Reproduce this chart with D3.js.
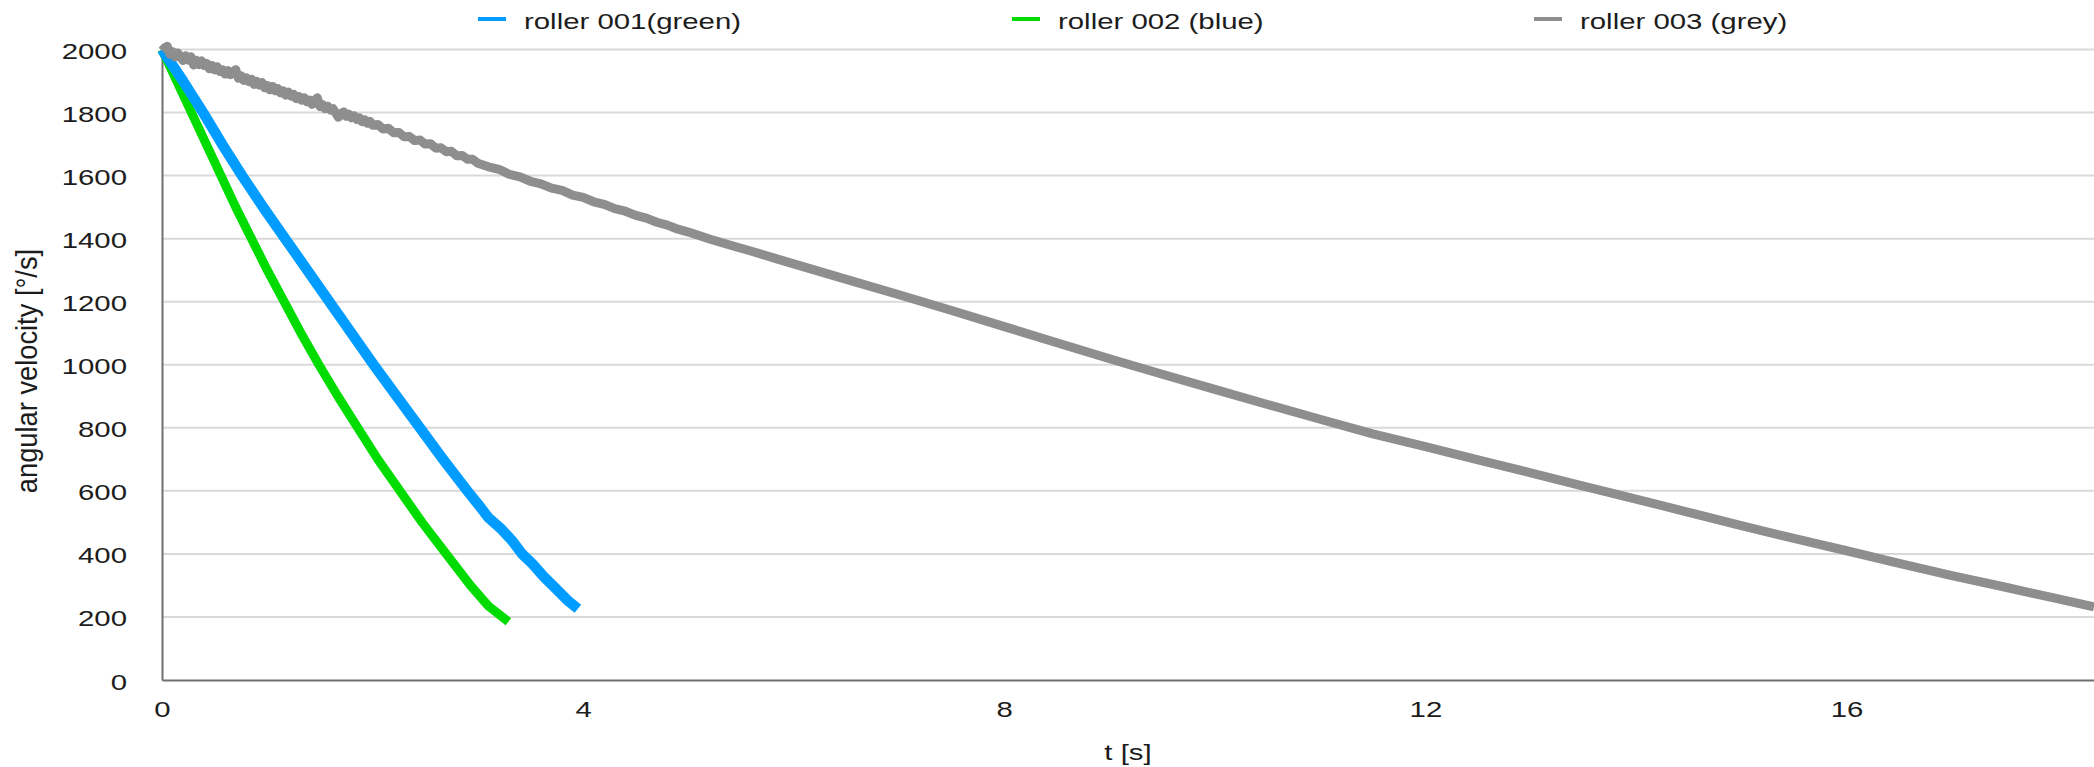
<!DOCTYPE html>
<html>
<head>
<meta charset="utf-8">
<script src="https://cdn.jsdelivr.net/npm/d3@7"></script>
<style>
  body { margin: 0; background: #fff; overflow: hidden; }
  text { font-family: "Liberation Sans", Arial, Helvetica, sans-serif; fill: #1c1c1c; }
</style>
</head>
<body>
<svg id="chart"></svg>
<script>
// series labels and colours, in legend order
const seriesNames = ["roller 001(green)", "roller 002 (blue)", "roller 003 (grey)"];
const seriesColors = ["#009cff", "#00dc00", "#8e8e8e"];

const xTicks = [0, 4, 8, 12, 16];
const yTicks = [0, 200, 400, 600, 800, 1000, 1200, 1400, 1600, 1800, 2000];

// roller 001 [t (s), angular velocity (deg/s)]
const roller001 = [
    [0, 2000], [0.2, 1900], [0.39, 1800], [0.57, 1700], [0.76, 1600], [0.96, 1500],
    [1.17, 1400], [1.38, 1300], [1.59, 1200], [1.80, 1100], [2.01, 1000], [2.23, 900],
    [2.45, 800], [2.67, 700], [2.90, 600], [3.02, 550], [3.10, 515], [3.22, 480],
    [3.33, 440], [3.42, 400], [3.52, 368], [3.62, 330], [3.74, 290], [3.86, 250], [3.95, 226]
];

// roller 002
const roller002 = [
    [0, 2000], [0.14, 1900], [0.28, 1800], [0.42, 1700], [0.56, 1600], [0.70, 1500],
    [0.85, 1400], [1.00, 1300], [1.16, 1200], [1.32, 1100], [1.49, 1000], [1.67, 900],
    [1.86, 800], [2.05, 700], [2.26, 600], [2.47, 500], [2.70, 400], [2.93, 300],
    [3.10, 235], [3.29, 185]
];

// roller 003, noisy during the first seconds
const roller003 = [
    [0.000, 1996], [0.025, 2005], [0.050, 2010], [0.075, 1985], [0.100, 1993], [0.125, 1976],
    [0.150, 1989], [0.175, 1976], [0.200, 1965], [0.225, 1980], [0.250, 1966], [0.275, 1977],
    [0.300, 1951], [0.325, 1966], [0.350, 1952], [0.375, 1964], [0.400, 1949], [0.425, 1956],
    [0.450, 1939], [0.475, 1949], [0.500, 1935], [0.525, 1945], [0.550, 1930], [0.575, 1936],
    [0.600, 1922], [0.625, 1933], [0.650, 1920], [0.675, 1930], [0.700, 1936], [0.725, 1909],
    [0.750, 1917], [0.775, 1902], [0.800, 1910], [0.825, 1898], [0.850, 1906], [0.875, 1889],
    [0.900, 1899], [0.925, 1887], [0.950, 1895], [0.975, 1879], [1.000, 1886], [1.025, 1872],
    [1.050, 1883], [1.075, 1869], [1.100, 1876], [1.125, 1862], [1.150, 1869], [1.175, 1855],
    [1.200, 1865], [1.225, 1852], [1.250, 1858], [1.275, 1844], [1.300, 1851], [1.325, 1839],
    [1.350, 1847], [1.375, 1834], [1.400, 1840], [1.425, 1826], [1.450, 1838], [1.475, 1847],
    [1.500, 1819], [1.525, 1825], [1.550, 1812], [1.575, 1820], [1.600, 1808], [1.625, 1812],
    [1.650, 1798], [1.675, 1785], [1.700, 1796], [1.725, 1802], [1.750, 1788], [1.775, 1795],
    [1.800, 1783], [1.825, 1790], [1.850, 1778], [1.875, 1783], [1.900, 1771], [1.925, 1777],
    [1.950, 1766], [1.975, 1772], [2.000, 1760],
    [2.05, 1762], [2.10, 1748], [2.15, 1750], [2.20, 1736], [2.25, 1737], [2.30, 1723],
    [2.35, 1724], [2.40, 1711], [2.45, 1713], [2.50, 1700], [2.55, 1701], [2.60, 1687],
    [2.65, 1688], [2.70, 1676], [2.75, 1677], [2.80, 1663], [2.85, 1664], [2.90, 1652],
    [2.95, 1652], [3.00, 1639],
    [3.10, 1628], [3.20, 1620], [3.30, 1604], [3.40, 1596], [3.50, 1582], [3.60, 1574],
    [3.70, 1560], [3.80, 1553], [3.90, 1538], [4.00, 1531], [4.10, 1517], [4.20, 1509],
    [4.30, 1495], [4.40, 1487], [4.50, 1474], [4.60, 1465], [4.70, 1452], [4.80, 1443],
    [4.90, 1430], [5.00, 1421], [5.20, 1399], [5.40, 1379], [5.60, 1360], [5.80, 1340],
    [6.00, 1320], [6.50, 1271], [7.00, 1222], [7.50, 1172], [8.00, 1121], [8.50, 1070],
    [9.00, 1019], [9.50, 970], [10.0, 922], [10.5, 874], [11.0, 827], [11.5, 781],
    [12.0, 740], [12.5, 698], [13.0, 657], [13.5, 615], [14.0, 574], [14.5, 532],
    [15.0, 490], [15.5, 449], [16.0, 410], [16.5, 370], [17.0, 331], [17.5, 295],
    [18.0, 258], [18.35, 232]
];

const allSeries = [roller001, roller002, roller003];

const width = 2094;
const height = 767;
const SX = 1.335; // the picture is stretched sideways, text follows

const svg = d3.select("#chart").attr("width", width).attr("height", height);

const x = d3.scaleLinear().domain([0, 18.35]).range([162, 2094]);
const y = d3.scaleLinear().domain([0, 2000]).range([680, 49.5]);

// gridlines
svg.append("g")
    .attr("class", "grid")
    .selectAll("line")
    .data(yTicks.filter(function (d) { return d > 0; }))
    .enter()
    .append("line")
    .attr("x1", x(0))
    .attr("x2", width)
    .attr("y1", function (d) { return y(d); })
    .attr("y2", function (d) { return y(d); })
    .attr("stroke", "#d9d9d9")
    .attr("stroke-width", 2);

// axes
const yAxis = svg.append("g")
    .attr("transform", "translate(" + x(0) + ",0)")
    .call(d3.axisLeft(y).tickValues(yTicks).tickSize(0).tickFormat(d3.format("d")));
yAxis.select(".domain").attr("stroke", "#6f6f6f").attr("stroke-width", 2);
yAxis.selectAll("text")
    .attr("x", 0).attr("dy", null)
    .attr("font-size", 22)
    .attr("transform", "translate(-35,9) scale(" + SX + ",1)");

const xAxis = svg.append("g")
    .attr("transform", "translate(0," + y(0) + ")")
    .call(d3.axisBottom(x).tickValues(xTicks).tickSize(0).tickFormat(d3.format("d")));
xAxis.select(".domain").attr("stroke", "#6f6f6f").attr("stroke-width", 2);
xAxis.selectAll("text")
    .attr("y", 0).attr("dy", null)
    .attr("font-size", 22)
    .attr("transform", "translate(0,37) scale(" + SX + ",1)");

// lines, grey drawn last
const line = d3.line()
    .x(function (d) { return x(d[0]); })
    .y(function (d) { return y(d[1]); });

const widths = [10.5, 9, 9];
[1, 0, 2].forEach(function (i) {
    svg.append("path")
        .datum(allSeries[i])
        .attr("fill", "none")
        .attr("stroke", seriesColors[i])
        .attr("stroke-width", widths[i])
        .attr("stroke-linejoin", "round")
        .attr("stroke-linecap", "butt")
        .attr("d", line);
});

// legend
const legendX = [478, 1012, 1534];
const legend = svg.append("g").attr("class", "legend")
    .selectAll("g")
    .data(seriesNames)
    .enter()
    .append("g")
    .attr("transform", function (d, i) { return "translate(" + legendX[i] + ",0)"; });

legend.append("line")
    .attr("x1", 0).attr("x2", 28)
    .attr("y1", 19).attr("y2", 19)
    .attr("stroke", function (d, i) { return seriesColors[i]; })
    .attr("stroke-width", 4);

legend.append("text")
    .attr("font-size", 22)
    .attr("transform", "translate(46,29) scale(" + SX + ",1)")
    .text(function (d) { return d; });

// axis titles
svg.append("text")
    .attr("font-size", 22)
    .attr("text-anchor", "middle")
    .attr("transform", "translate(" + ((x(0) + width) / 2) + ",760) scale(" + SX + ",1)")
    .text("t [s]");

svg.append("text")
    .attr("font-size", 22)
    .attr("text-anchor", "middle")
    .attr("transform", "translate(37,371) rotate(-90) scale(1.24,1.3)")
    .text("angular velocity [°/s]");
</script>
</body>
</html>
